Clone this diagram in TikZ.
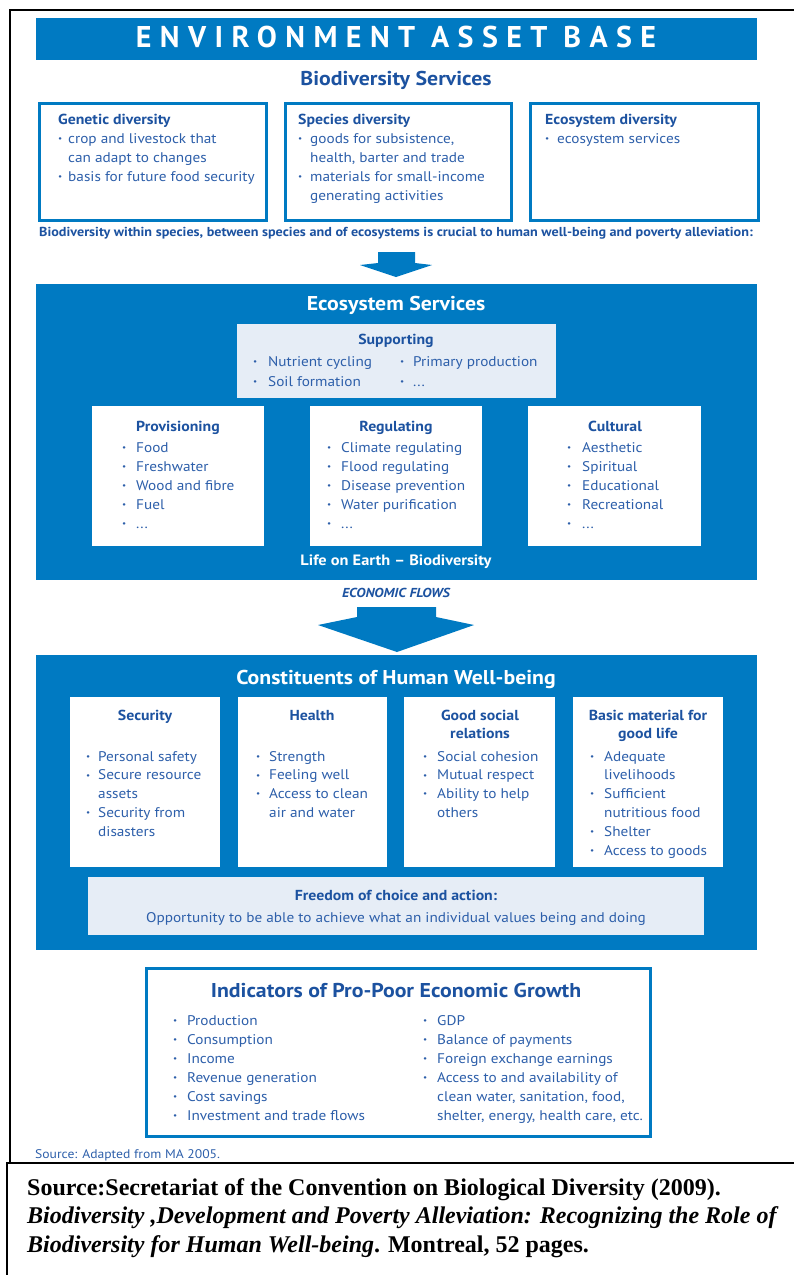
\documentclass[tikz,border=0pt]{standalone}
\usepackage{fontspec}
\usepackage{graphicx}
\setmainfont{Liberation Serif}
\newfontfamily\dsf[FakeStretch=1.09]{PT Sans}
\newfontfamily\titlefont[LetterSpace=28]{PT Sans}
\definecolor{cbdblue}{RGB}{0,122,194}
\definecolor{txtblue}{RGB}{45,95,170}
\definecolor{headblue}{RGB}{28,82,160}
\definecolor{paleblue}{RGB}{230,237,246}
% bullet of a given width (pt) and hanging indent
\newcommand\ib[1]{\makebox[#1pt][l]{\raisebox{0.25ex}{\scalebox{0.6}{\textbullet}}}}
\newcommand\ind[1]{\hspace*{#1pt}}
% stacked lines whose baseline is the first line
\newcommand\rows[1]{\begin{tabular}[t]{@{}l@{}}#1\end{tabular}}
\newcommand\crows[1]{\begin{tabular}[t]{@{}c@{}}#1\end{tabular}}
\tikzset{
  panel/.style={fill=cbdblue, draw=none, anchor=north west, inner sep=0pt},
  outlinebox/.style={draw=cbdblue, line width=3pt, fill=white, anchor=north west, inner sep=0pt},
  whitebox/.style={fill=white, draw=none, anchor=north west, inner sep=0pt},
  palebox/.style={fill=paleblue, draw=none, anchor=north west, inner sep=0pt},
  txt/.style={anchor=base west, inner sep=0pt, text=txtblue,
    font=\dsf\fontsize{14}{19}\selectfont},
  txtc/.style={txt, font=\dsf\fontsize{14}{18.8}\selectfont},
  head/.style={anchor=base, inner sep=0pt, text=headblue,
    font=\dsf\bfseries\fontsize{14.5}{18}\selectfont},
  headw/.style={head, anchor=base west},
  paneltitle/.style={anchor=base, inner sep=0pt, text=white,
    font=\dsf\bfseries\fontsize{20}{24}\selectfont},
  bigarrow/.style={fill=cbdblue, draw=none},
}
\begin{document}
\begin{tikzpicture}[x=1pt,y=-1pt]
\useasboundingbox (0,0) rectangle (794,1275);

% outer frame
\draw[line width=2pt] (10,1163) -- (10,10) -- (810,10);

% title banner
\node[panel, minimum width=721pt, minimum height=42pt] (banner) at (36,18) {};
\node[anchor=base, inner sep=0pt, text=white, font=\titlefont\bfseries\fontsize{30}{36}\selectfont] (title) at (396,47) {ENVIRONMENT ASSET BASE};

% biodiversity services
\node[head, font=\dsf\bfseries\fontsize{20}{24}\selectfont] (bstitle) at (396,85) {Biodiversity Services};
\node[outlinebox, minimum width=227pt, minimum height=117pt] (gen) at (37.5,101.5) {};
\node[outlinebox, minimum width=226pt, minimum height=117pt] (spe) at (283.5,101.5) {};
\node[outlinebox, minimum width=228pt, minimum height=117pt] (eco) at (528.5,101.5) {};
\node[headw] (genh) at (58,124) {Genetic diversity};
\node[txt] (genl) at (58,143) {\rows{\ib{10}crop and livestock that\\\ind{10}can adapt to changes\\\ib{10}basis for future food security}};
\node[headw] (speh) at (298,124) {Species diversity};
\node[txt] (spel) at (298,143) {\rows{\ib{12}goods for subsistence,\\\ind{12}health, barter and trade\\\ib{12}materials for small-income\\\ind{12}generating activities}};
\node[headw] (ecoh) at (545,124) {Ecosystem diversity};
\node[txt] (ecol) at (545,143) {\ib{12}ecosystem services};
\node[anchor=base, inner sep=0pt, text=headblue, font=\dsf\bfseries\fontsize{13}{15}\selectfont] (crucial) at (396,236) {Biodiversity within species, between species and of ecosystems is crucial to human well-being and poverty alleviation:};

% arrow down to ecosystem services
\fill[bigarrow] (378,252) -- (415,252) -- (415,263) -- (432,265) -- (396,277) -- (360,265) -- (378,263) -- cycle;

% ecosystem services panel
\node[panel, minimum width=721pt, minimum height=296pt] (esp) at (36,284) {};
\node[paneltitle] (est) at (396,310) {Ecosystem Services};
\node[palebox, minimum width=319pt, minimum height=74pt] (supp) at (237,324) {};
\node[head] (supph) at (396,344) {Supporting};
\node[txt, font=\dsf\fontsize{14}{20}\selectfont] (suppa) at (253,366) {\rows{\ib{15}Nutrient cycling\\\ib{15}Soil formation}};
\node[txt, font=\dsf\fontsize{14}{20}\selectfont] (suppb) at (400,366) {\rows{\ib{13}Primary production\\\ib{13}...}};

\node[whitebox, minimum width=172pt, minimum height=140pt] (prov) at (92,406) {};
\node[whitebox, minimum width=172pt, minimum height=140pt] (reg) at (310,406) {};
\node[whitebox, minimum width=173pt, minimum height=140pt] (cult) at (528,406) {};
\node[head] (provh) at (178,431) {Provisioning};
\node[txt] (provl) at (122,452) {\rows{\ib{14}Food\\\ib{14}Freshwater\\\ib{14}Wood and fibre\\\ib{14}Fuel\\\ib{14}...}};
\node[head] (regh) at (396,431) {Regulating};
\node[txt] (regl) at (327,452) {\rows{\ib{14}Climate regulating\\\ib{14}Flood regulating\\\ib{14}Disease prevention\\\ib{14}Water purification\\\ib{14}...}};
\node[head] (culth) at (615,431) {Cultural};
\node[txt] (cultl) at (567,452) {\rows{\ib{15}Aesthetic\\\ib{15}Spiritual\\\ib{15}Educational\\\ib{15}Recreational\\\ib{15}...}};
\node[paneltitle, font=\dsf\bfseries\fontsize{15}{18}\selectfont] (life) at (396,565) {Life on Earth – Biodiversity};

% economic flows
\node[anchor=base, inner sep=0pt, text=headblue, font=\dsf\bfseries\itshape\fontsize{13}{15}\selectfont] (flows) at (396,597) {ECONOMIC FLOWS};
\fill[bigarrow] (357,607) -- (436,607) -- (436,617) -- (474,625) -- (397,652) -- (318,625) -- (357,617) -- cycle;

% constituents of human well-being
\node[panel, minimum width=721pt, minimum height=295pt] (cwp) at (36,655) {};
\node[paneltitle] (cwt) at (396,684) {Constituents of Human Well-being};
\node[whitebox, minimum width=150pt, minimum height=170pt] (sec) at (70,697) {};
\node[whitebox, minimum width=149pt, minimum height=170pt] (hea) at (238,697) {};
\node[whitebox, minimum width=151pt, minimum height=170pt] (soc) at (404,697) {};
\node[whitebox, minimum width=150pt, minimum height=170pt] (bas) at (573,697) {};
\node[head] (sech) at (145,720) {Security};
\node[head] (heah) at (312,720) {Health};
\node[head] (soch) at (480,720) {\crows{Good social\\relations}};
\node[head] (bash) at (648,720) {\crows{Basic material for\\good life}};
\node[txtc] (secl) at (86,761) {\rows{\ib{12}Personal safety\\\ib{12}Secure resource\\\ind{12}assets\\\ib{12}Security from\\\ind{12}disasters}};
\node[txtc] (heal) at (256,761) {\rows{\ib{13}Strength\\\ib{13}Feeling well\\\ib{13}Access to clean\\\ind{13}air and water}};
\node[txtc] (socl) at (423,761) {\rows{\ib{14}Social cohesion\\\ib{14}Mutual respect\\\ib{14}Ability to help\\\ind{14}others}};
\node[txtc] (basl) at (590,761) {\rows{\ib{14}Adequate\\\ind{14}livelihoods\\\ib{14}Sufficient\\\ind{14}nutritious food\\\ib{14}Shelter\\\ib{14}Access to goods}};
\node[palebox, minimum width=616pt, minimum height=58pt] (free) at (88,877) {};
\node[head] (freeh) at (396,900) {Freedom of choice and action:};
\node[txt, anchor=base] (freel) at (396,922) {Opportunity to be able to achieve what an individual values being and doing};

% indicators
\node[outlinebox, minimum width=504pt, minimum height=168pt] (ind) at (144.5,966.5) {};
\node[head, font=\dsf\bfseries\fontsize{20}{24}\selectfont] (indh) at (396,997) {Indicators of Pro-Poor Economic Growth};
\node[txt] (indl) at (173,1025) {\rows{\ib{14}Production\\\ib{14}Consumption\\\ib{14}Income\\\ib{14}Revenue generation\\\ib{14}Cost savings\\\ib{14}Investment and trade flows}};
\node[txt] (indr) at (423,1025) {\rows{\ib{14}GDP\\\ib{14}Balance of payments\\\ib{14}Foreign exchange earnings\\\ib{14}Access to and availability of\\\ind{14}clean water, sanitation, food,\\\ind{14}shelter, energy, health care, etc.}};
\node[txt, font=\dsf\fontsize{12.5}{14}\selectfont] (ma) at (35,1158) {Source: Adapted from MA 2005.};

% reference box
\draw[line width=2.5pt] (7,1290) -- (7,1163) -- (810,1163);
\node[anchor=base west, inner sep=0pt, font=\fontsize{24}{28.5}\selectfont\bfseries] (src) at (27,1195) {\rows{Source:Secretariat of the Convention on Biological Diversity (2009).\\\textit{Biodiversity ,Development and Poverty Alleviation: Recognizing the Role of}\\\textit{Biodiversity for Human Well-being}. Montreal, 52 pages.}};
\end{tikzpicture}
\end{document}
